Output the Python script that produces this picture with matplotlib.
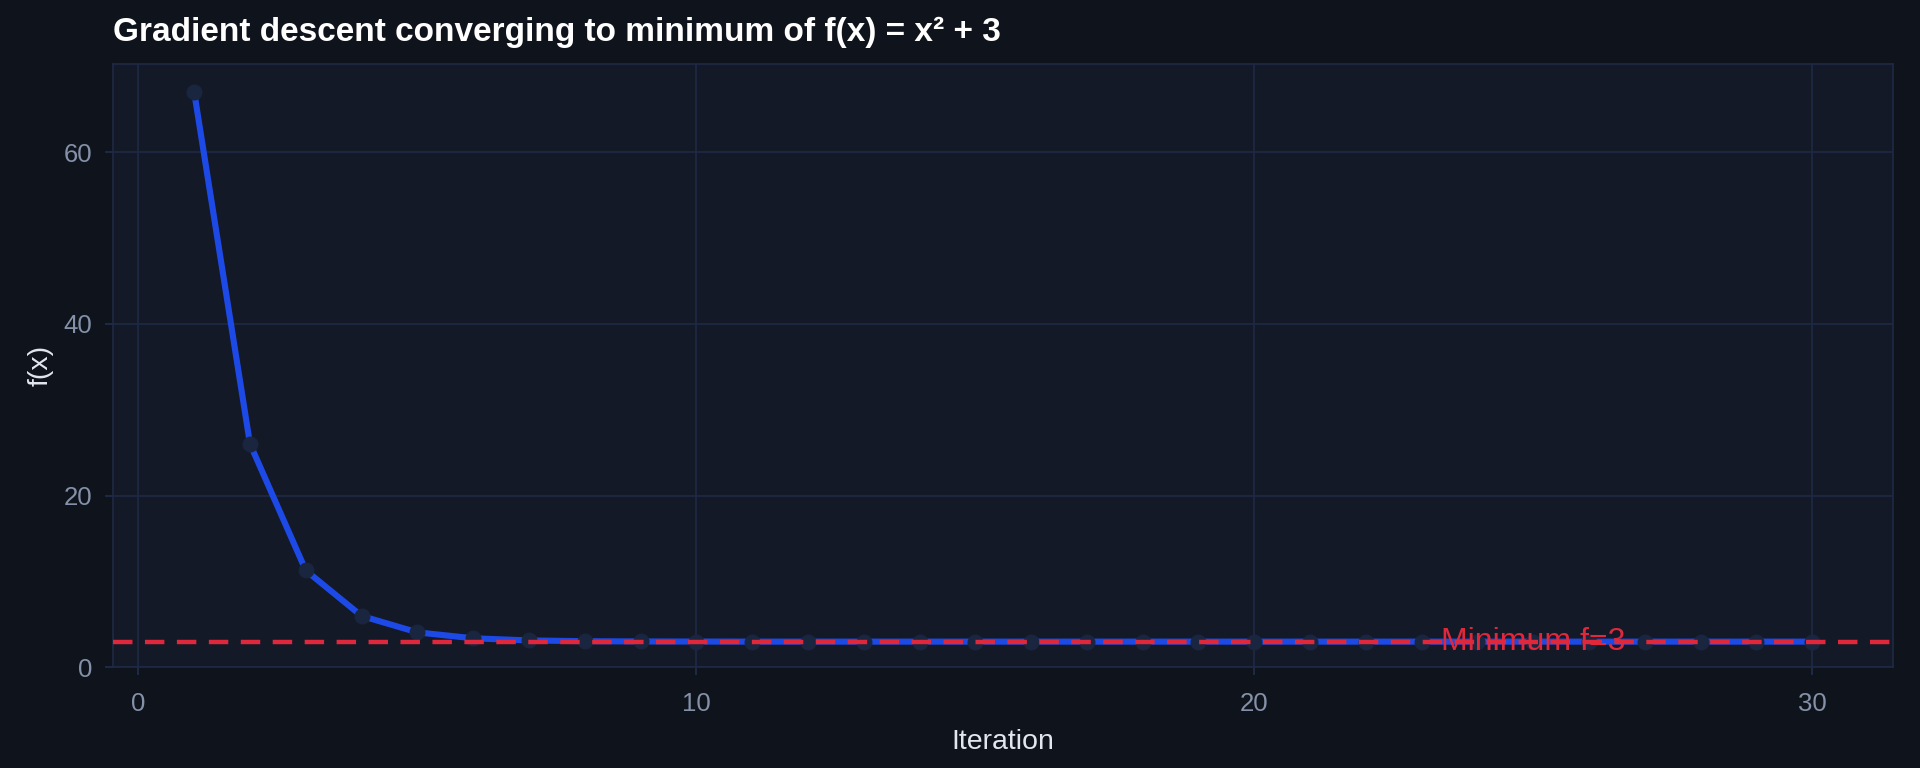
import matplotlib
matplotlib.use("Agg")
import matplotlib.pyplot as plt

# values
iterations = list(range(1, 31))
f_values = [67.0, 26.04, 11.29, 5.99, 4.08, 3.39, 3.14, 3.05, 3.02, 3.01,
            3.0, 3.0, 3.0, 3.0, 3.0, 3.0, 3.0, 3.0, 3.0, 3.0,
            3.0, 3.0, 3.0, 3.0, 3.0, 3.0, 3.0, 3.0, 3.0, 3.0]
minimum_value = 3
x_ticks = [0, 10, 20, 30]
y_ticks = [0, 20, 40, 60]

plt.rcParams['font.family'] = ['Liberation Sans', 'DejaVu Sans']
plt.rcParams['lines.scale_dashes'] = False

bg = '#0f131c'
plot_bg = '#131927'
grid_col = '#1e2a44'
tick_col = '#8491a8'
label_col = '#e2e6ee'

fig = plt.figure(figsize=(19.2, 7.68), dpi=100, facecolor=bg)
ax = fig.add_axes([0.059, 0.131, 0.927, 0.786])
ax.set_facecolor(plot_bg)

ax.plot(iterations, f_values, color='#1d4ae6', linewidth=4.4, zorder=3,
        marker='o', markersize=10.5, markerfacecolor='#1a2640',
        markeredgecolor='#1a2640')
ax.axhline(minimum_value, color='#e0283c', linewidth=3.2, linestyle=(0, (14, 9)),
           zorder=4)
ax.text(25.0, minimum_value, f'Minimum f={minimum_value}', color='#e0283c',
        fontsize=23, ha='center', va='center', zorder=5)

ax.set_xlim(-0.45, 31.45)
ax.set_ylim(0, 70.3)
ax.set_xticks(x_ticks)
ax.set_yticks(y_ticks)
ax.grid(True, color=grid_col, linewidth=1.2)
ax.set_axisbelow(True)
for s in ax.spines.values():
    s.set_color(grid_col)
    s.set_linewidth(1.2)
ax.tick_params(colors=tick_col, labelsize=18.5, length=6, width=1.5,
               color=grid_col)
ax.tick_params(axis='x', pad=12)
ax.tick_params(axis='y', pad=9)

ax.set_xlabel('Iteration', color=label_col, fontsize=20.5, labelpad=9)
ax.set_ylabel('f(x)', color=label_col, fontsize=20.5, labelpad=7)
fig.text(0.059, 0.958, 'Gradient descent converging to minimum of f(x) = x² + 3',
         color='white', fontsize=24, fontweight='bold', ha='left', va='center')

fig.savefig('out.png', dpi=100, facecolor=bg)
